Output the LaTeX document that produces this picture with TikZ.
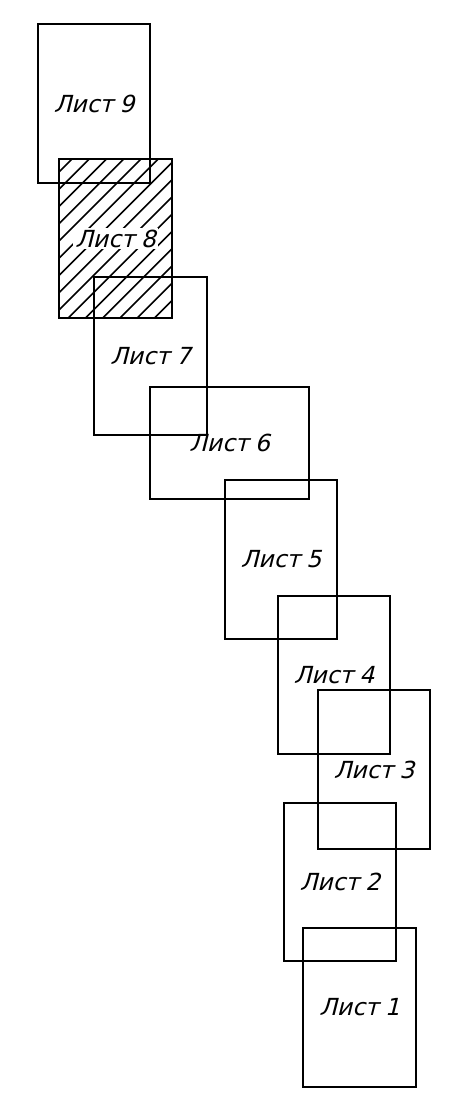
\documentclass[tikz,border=0pt]{standalone}
\usepackage{fontspec}
\setmainfont{DejaVu Sans}[FakeSlant=0.25]
\begin{document}
\begin{tikzpicture}[x=1pt,y=-1pt,
  sheet/.style={draw=black,line width=2pt,minimum width=112.5pt,minimum height=158.5pt,inner sep=0pt,font=\fontsize{23.5}{26}\selectfont},
  sheetwide/.style={sheet,minimum width=158.5pt,minimum height=112.5pt},
  hatch/.style={line width=1.7pt},
  lbl/.style={inner sep=0pt,font=\fontsize{23.5}{26}\selectfont}]
\useasboundingbox (0,0) rectangle (451,1113);
\newcommand{\lst}[1]{Лист\hspace{0.25em}#1}
% hatched sheet 8
\node[sheet] (r8) at (115.5,238.5) {};
\begin{scope}
  \clip (r8.south west) rectangle (r8.north east);
  \foreach \k in {-1,...,16}{
    \pgfmathsetmacro{\c}{231+17.25*\k}
    \draw[hatch] (\c-120,120) -- (\c-360,360);
  }
\end{scope}
\node[sheet] (r8b) at (115.5,238.5) {};
\node[lbl,fill=white,inner xsep=2pt,inner ysep=2pt] (t8) at (r8) {\lst{8}};
\node[sheet] (r9) at (94,103.5) {\lst{9}};
\node[sheet] (r7) at (150.5,356) {\lst{7}};
\node[sheetwide] (r6) at (229.5,443) {\lst{6}};
\node[sheet] (r5) at (281,559.5) {\lst{5}};
\node[sheet] (r4) at (334,675) {\lst{4}};
\node[sheet] (r3) at (374,769.5) {\lst{3}};
\node[sheet] (r2) at (340,882) {\lst{2}};
\node[sheet] (r1) at (359.5,1007.5) {\lst{1}};
\end{tikzpicture}
\end{document}
